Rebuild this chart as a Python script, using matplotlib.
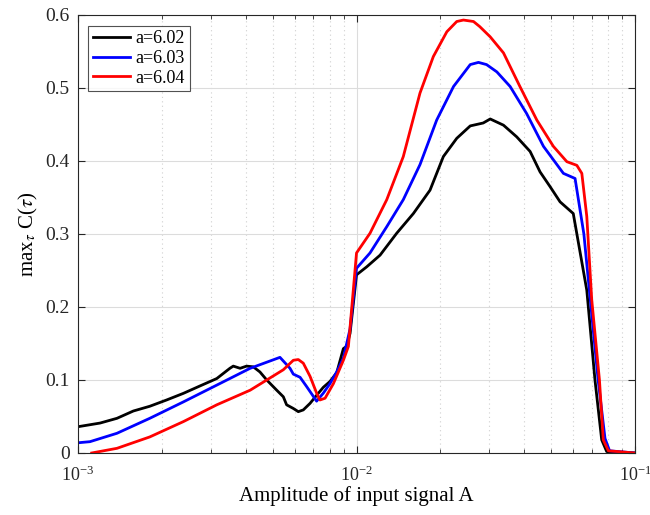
import numpy as np
import matplotlib.pyplot as plt
from matplotlib.ticker import LogLocator, NullFormatter

plt.rcParams['font.family'] = ['Liberation Serif', 'DejaVu Serif']
plt.rcParams['mathtext.fontset'] = 'stix'

# a = 6.02
x_602 = [1.0e-3, 1.20e-3, 1.38e-3, 1.58e-3, 1.81e-3, 2.08e-3, 2.39e-3, 2.74e-3, 3.15e-3, 3.51e-3,
         3.61e-3, 3.82e-3, 4.03e-3, 4.26e-3, 4.50e-3, 4.76e-3, 5.17e-3, 5.46e-3, 5.61e-3, 5.93e-3,
         6.18e-3, 6.44e-3, 6.81e-3, 7.19e-3, 7.60e-3, 8.03e-3, 8.49e-3, 8.97e-3, 9.22e-3, 9.48e-3,
         1.0e-2, 1.088e-2, 1.215e-2, 1.394e-2, 1.60e-2, 1.836e-2, 2.05e-2, 2.29e-2, 2.56e-2, 2.85e-2,
         3.02e-2, 3.37e-2, 3.76e-2, 4.20e-2, 4.56e-2, 4.95e-2, 5.38e-2, 6.00e-2, 6.71e-2, 7.18e-2,
         7.59e-2, 7.91e-2, 8.5e-2, 0.1]
y_602 = [0.036, 0.041, 0.0475, 0.0575, 0.064, 0.0726, 0.0817, 0.0918, 0.102, 0.116,
         0.119, 0.116, 0.119, 0.118, 0.111, 0.100, 0.086, 0.077, 0.066, 0.061,
         0.0566, 0.059, 0.068, 0.079, 0.090, 0.098, 0.110, 0.143, 0.146, 0.164,
         0.244, 0.255, 0.271, 0.301, 0.328, 0.360, 0.406, 0.431, 0.448, 0.452,
         0.4575, 0.449, 0.433, 0.413, 0.385, 0.365, 0.344, 0.328, 0.223, 0.100,
         0.018, 0.002, 0.001, 0.0]

# a = 6.03
x_603 = [1.0e-3, 1.104e-3, 1.38e-3, 1.81e-3, 2.39e-3, 3.15e-3, 4.15e-3, 5.31e-3, 5.77e-3, 5.93e-3,
         6.27e-3, 6.62e-3, 7.19e-3, 7.60e-3, 8.03e-3, 8.49e-3, 8.97e-3, 9.48e-3, 1.0e-2, 1.118e-2,
         1.284e-2, 1.472e-2, 1.69e-2, 1.94e-2, 2.23e-2, 2.56e-2, 2.74e-2, 2.93e-2, 3.19e-2, 3.56e-2,
         4.08e-2, 4.69e-2, 5.53e-2, 6.09e-2, 6.55e-2, 7.37e-2, 7.8e-2, 8.1e-2, 0.1]
y_603 = [0.014, 0.0155, 0.027, 0.0475, 0.070, 0.093, 0.116, 0.131, 0.116, 0.108,
         0.1037, 0.091, 0.071, 0.082, 0.095, 0.111, 0.130, 0.170, 0.253, 0.274,
         0.310, 0.347, 0.395, 0.456, 0.502, 0.532, 0.535, 0.532, 0.522, 0.502,
         0.465, 0.420, 0.383, 0.376, 0.300, 0.100, 0.020, 0.003, 0.0]

# a = 6.04
x_604 = [1.12e-3, 1.38e-3, 1.81e-3, 2.39e-3, 3.15e-3, 4.15e-3, 5.46e-3, 5.93e-3, 6.18e-3, 6.44e-3,
         6.81e-3, 7.19e-3, 7.39e-3, 7.71e-3, 8.26e-3, 8.97e-3, 9.35e-3, 1.0e-2, 1.118e-2, 1.284e-2,
         1.472e-2, 1.69e-2, 1.887e-2, 2.11e-2, 2.29e-2, 2.42e-2, 2.63e-2, 2.77e-2, 3.02e-2, 3.37e-2,
         3.86e-2, 4.44e-2, 5.09e-2, 5.69e-2, 6.18e-2, 6.44e-2, 6.71e-2, 6.99e-2, 7.45e-2, 7.69e-2,
         8.02e-2, 0.1]
y_604 = [0.0, 0.0064, 0.022, 0.043, 0.066, 0.086, 0.114, 0.127, 0.128, 0.123,
         0.105, 0.082, 0.0726, 0.075, 0.095, 0.127, 0.146, 0.274, 0.301, 0.347,
         0.406, 0.493, 0.543, 0.577, 0.591, 0.593, 0.591, 0.584, 0.570, 0.548,
         0.502, 0.456, 0.420, 0.399, 0.394, 0.383, 0.324, 0.210, 0.100, 0.018,
         0.003, 0.0]

fig = plt.figure(figsize=(6.5, 5.15), dpi=100)
ax = fig.add_axes([0.12, 0.1204, 0.857, 0.8506])

ax.plot(x_602, y_602, color='black', lw=2, label='a=6.02')
ax.plot(x_603, y_603, color='blue', lw=2, label='a=6.03')
ax.plot(x_604, y_604, color='red', lw=2, label='a=6.04')

ax.set_xscale('log')
ax.set_xlim(1e-3, 1e-1)
ax.set_ylim(0, 0.6)
ax.set_yticks([0, 0.1, 0.2, 0.3, 0.4, 0.5, 0.6])
ax.set_yticklabels(['0', '0.1', '0.2', '0.3', '0.4', '0.5', '0.6'])
ax.xaxis.set_minor_locator(LogLocator(base=10, subs=np.arange(2, 10)))
ax.xaxis.set_minor_formatter(NullFormatter())

ax.grid(True, which='major', color='#dcdcdc', lw=0.8)
ax.grid(True, which='minor', axis='x', color='#d0d0d0', lw=0.8, linestyle=(0, (1, 3)))
ax.set_axisbelow(True)

ax.tick_params(which='both', direction='in', top=True, right=True, colors='#262626')
ax.tick_params(which='major', length=5)
ax.tick_params(which='minor', length=3)
ax.tick_params(axis='y', pad=6, labelsize=14)
ax.tick_params(axis='x', pad=9, labelsize=13)
for s in ax.spines.values():
    s.set_color('#262626')
    s.set_linewidth(0.8)

ax.set_xlabel('Amplitude of input signal A', fontsize=15, labelpad=1)
ax.set_ylabel(r'max$_\tau$ C($\tau$)', fontsize=15)

leg = ax.legend(loc='upper left', fontsize=13, frameon=True, fancybox=False, handlelength=2.1,
                borderpad=0.25, labelspacing=0.15, handletextpad=0.3, borderaxespad=0,
                bbox_to_anchor=(0.018, 0.975))
leg.get_frame().set_edgecolor('#262626')
leg.get_frame().set_linewidth(0.8)

plt.savefig('out.png', dpi=100)
